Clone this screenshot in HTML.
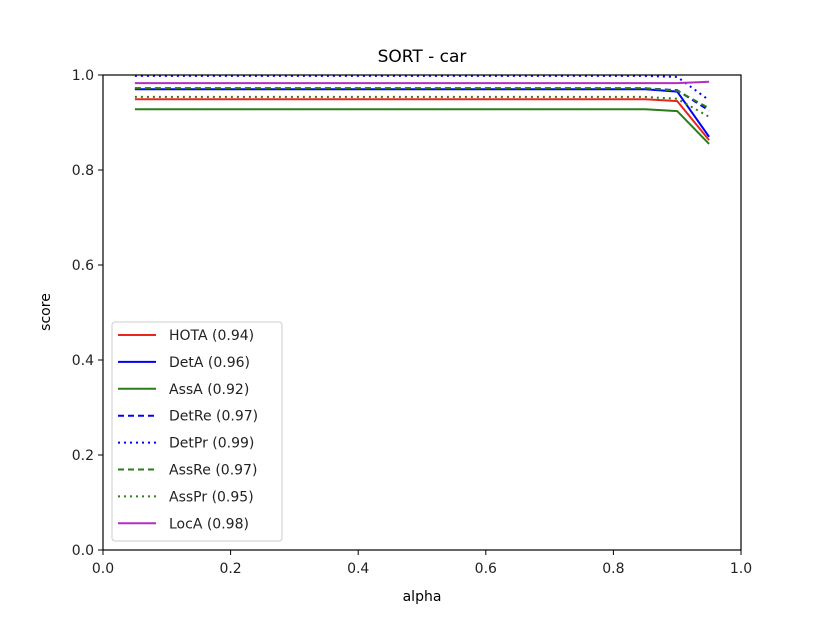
<!DOCTYPE html>
<html><head><meta charset="utf-8"><style>
body{margin:0;background:#fff}
svg{display:block;font-family:"DejaVu Sans","Liberation Sans",sans-serif}
</style></head><body>
<svg id="chart" width="824" height="618" viewBox="0 0 824 618" xmlns="http://www.w3.org/2000/svg">
<rect width="824" height="618" fill="#fff"/>
<g id="plot"></g>
</svg>
<script>
const alphas=[0.05,0.1,0.15,0.2,0.25,0.3,0.35,0.4,0.45,0.5,0.55,0.6,0.65,0.7,0.75,0.8,0.85,0.9,0.95];
const seriesNames=["HOTA (0.94)","DetA (0.96)","AssA (0.92)","DetRe (0.97)","DetPr (0.99)","AssRe (0.97)","AssPr (0.95)","LocA (0.98)"];
function flat(v,v90,v95){const a=[];for(let i=0;i<17;i++)a.push(v);a.push(v90);a.push(v95);return a;}
const hota=[0.949,0.949,0.949,0.949,0.949,0.949,0.949,0.949,0.949,0.949,0.949,0.949,0.949,0.949,0.949,0.949,0.949,0.945,0.863];
const deta=[0.970,0.970,0.970,0.970,0.970,0.970,0.970,0.970,0.970,0.970,0.970,0.970,0.970,0.970,0.970,0.970,0.970,0.965,0.870];
const assa=[0.928,0.928,0.928,0.928,0.928,0.928,0.928,0.928,0.928,0.928,0.928,0.928,0.928,0.928,0.928,0.928,0.928,0.924,0.855];
const detre=[0.972,0.972,0.972,0.972,0.972,0.972,0.972,0.972,0.972,0.972,0.972,0.972,0.972,0.972,0.972,0.972,0.972,0.968,0.925];
const detpr=[0.998,0.998,0.998,0.998,0.998,0.998,0.998,0.998,0.998,0.998,0.998,0.998,0.998,0.998,0.998,0.998,0.998,0.996,0.947];
const assre=[0.972,0.972,0.972,0.972,0.972,0.972,0.972,0.972,0.972,0.972,0.972,0.972,0.972,0.972,0.972,0.972,0.972,0.967,0.930];
const asspr=[0.954,0.954,0.954,0.954,0.954,0.954,0.954,0.954,0.954,0.954,0.954,0.954,0.954,0.954,0.954,0.954,0.954,0.950,0.912];
const loca=[0.983,0.983,0.983,0.983,0.983,0.983,0.983,0.983,0.983,0.983,0.983,0.983,0.983,0.983,0.983,0.983,0.983,0.983,0.986];
const xTicks=[0,0.2,0.4,0.6,0.8,1.0];
const yTicks=[0,0.2,0.4,0.6,0.8,1.0];
const tickLabels=["0.0","0.2","0.4","0.6","0.8","1.0"];

const X0=103,X1=741,Y0=550,Y1=75;
const xs=v=>X0+v*(X1-X0), ys=v=>Y0-v*(Y0-Y1);
const NS="http://www.w3.org/2000/svg";
const g=document.getElementById('plot');
function mk(t,a,p){const e=document.createElementNS(NS,t);for(const k in a)e.setAttribute(k,a[k]);(p||g).appendChild(e);return e;}
const styles=[["#e8271c",""],["#0000ff",""],["#2a7d1a",""],["#0000ff","6,4"],["#0000ff","2,4"],["#2a7d1a","6,4"],["#2a7d1a","2,4"],["#b52ec4",""]];
const data=[hota,deta,assa,detre,detpr,assre,asspr,loca];
const slugs=["hota","deta","assa","detre","detpr","assre","asspr","loca"];
data.forEach((d,i)=>{
  const pts=d.map((v,j)=>xs(alphas[j]).toFixed(1)+","+ys(v).toFixed(1)).join(" ");
  const l=mk('polyline',{points:pts,fill:"none",stroke:styles[i][0],"stroke-width":2,"stroke-dasharray":styles[i][1]||"none"});
  
  
});
const frame=mk('rect',{x:X0,y:Y1,width:X1-X0,height:Y0-Y1,fill:"none",stroke:"#000","stroke-width":1.2});


xTicks.forEach((v,i)=>{
  mk('line',{x1:xs(v),x2:xs(v),y1:Y0,y2:Y0+5,stroke:"#000"});
  const t=mk('text',{x:xs(v),y:Y0+23,"text-anchor":"middle","font-size":14,fill:"#222"});t.textContent=tickLabels[i];
  
  
});
yTicks.forEach((v,i)=>{
  mk('line',{x1:X0-5,x2:X0,y1:ys(v),y2:ys(v),stroke:"#000"});
  const t=mk('text',{x:X0-9,y:ys(v)+5,"text-anchor":"end","font-size":14,fill:"#222"});t.textContent=tickLabels[i];
  
  
});
let t=mk('text',{x:422,y:62,"text-anchor":"middle","font-size":17,fill:"#000"});t.textContent="SORT - car";


t=mk('text',{x:422,y:601,"text-anchor":"middle","font-size":14,fill:"#000"});t.textContent="alpha";


t=mk('text',{x:50,y:312,"text-anchor":"middle","font-size":14,fill:"#000",transform:"rotate(-90 50 312)"});t.textContent="score";


const lg=mk('g',{});


mk('rect',{x:112,y:322,width:170,height:219,rx:3,fill:"#fff","fill-opacity":0.8,stroke:"#ccc"},lg);
seriesNames.forEach((n,i)=>{
  const y=335+i*26.9;
  const e=mk('g',{},lg);
  
  
  mk('line',{x1:118,x2:156,y1:y,y2:y,stroke:styles[i][0],"stroke-width":2,"stroke-dasharray":styles[i][1]||"none"},e);
  const tx=mk('text',{x:169,y:y+5,"font-size":14,fill:"#222"},e);tx.textContent=n;
});
</script>
</body></html>
